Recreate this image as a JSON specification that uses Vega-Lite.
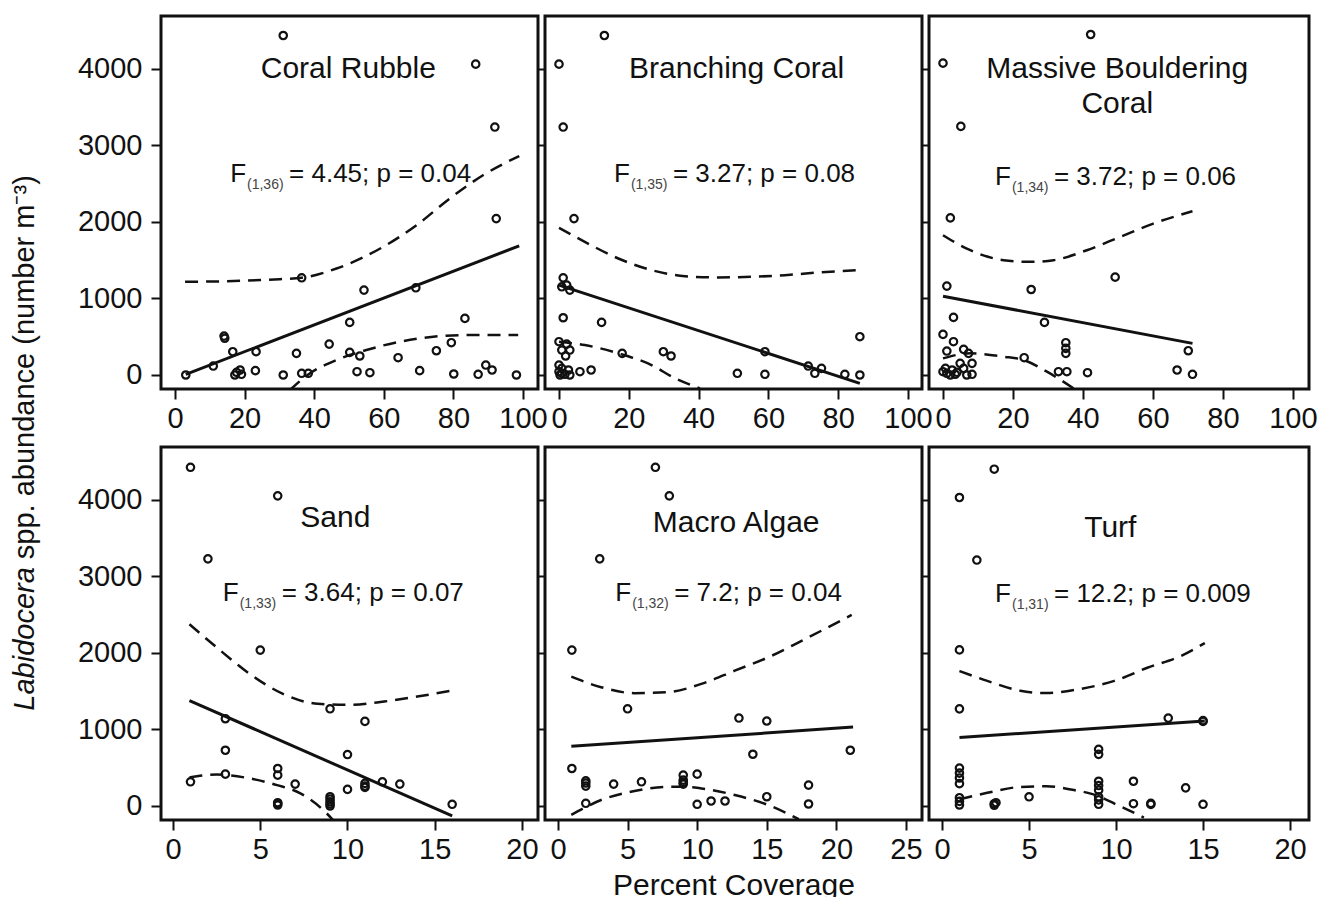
{
  "$schema": "https://vega.github.io/schema/vega-lite/v6.json",
  "background": "white",
  "padding": {"left": 9, "top": 14, "right": 5, "bottom": 0},
  "config": {
    "view": {"stroke": "#111", "strokeWidth": 3},
    "axis": {"grid": false, "domain": false, "tickColor": "#111", "tickWidth": 2, "labelFont": "Liberation Sans", "labelFontSize": 29, "labelColor": "#111", "titleFont": "Liberation Sans", "titleFontSize": 30, "titleFontWeight": "normal", "titleColor": "#111"},
    "axisX": {"tickSize": 10, "labelPadding": 5, "labelFlush": false, "labelOverlap": false, "titlePadding": 6},
    "axisY": {"tickSize": 10, "labelPadding": 9, "labelOverlap": false, "format": "d"},
    "text": {"font": "Liberation Sans", "color": "#111"}
  },
  "datasets": {
    "ytitle": [{"italic": "Labidocera", "rest": "spp. abundance (number m\u207b\u00b3)"}],
    "ann": [
      {"panel": "CR", "title": "Coral Rubble", "df": "(1,36)", "stat": "= 4.45; p = 0.04"},
      {"panel": "BC", "title": "Branching Coral", "df": "(1,35)", "stat": "= 3.27; p = 0.08"},
      {"panel": "MB", "title": "Massive Bouldering\nCoral", "df": "(1,34)", "stat": "= 3.72; p = 0.06"},
      {"panel": "SA", "title": "Sand", "df": "(1,33)", "stat": "= 3.64; p = 0.07"},
      {"panel": "MA", "title": "Macro Algae", "df": "(1,32)", "stat": "= 7.2; p = 0.04"},
      {"panel": "TU", "title": "Turf", "df": "(1,31)", "stat": "= 12.2; p = 0.009"}
    ],
    "pts": [
      {"panel":"CR","kind":"obs","x":3.1,"y":0},{"panel":"CR","kind":"obs","x":11.0,"y":117},{"panel":"CR","kind":"obs","x":14.1,"y":509},{"panel":"CR","kind":"obs","x":14.3,"y":480},
      {"panel":"CR","kind":"obs","x":16.6,"y":304},{"panel":"CR","kind":"obs","x":17.2,"y":0},{"panel":"CR","kind":"obs","x":17.7,"y":35},{"panel":"CR","kind":"obs","x":18.7,"y":65},
      {"panel":"CR","kind":"obs","x":19.1,"y":9},{"panel":"CR","kind":"obs","x":23.1,"y":57},{"panel":"CR","kind":"obs","x":23.3,"y":304},{"panel":"CR","kind":"obs","x":31.1,"y":0},
      {"panel":"CR","kind":"obs","x":31.1,"y":4435},{"panel":"CR","kind":"obs","x":34.9,"y":283},{"panel":"CR","kind":"obs","x":36.4,"y":1270},{"panel":"CR","kind":"obs","x":36.4,"y":22},
      {"panel":"CR","kind":"obs","x":38.3,"y":22},{"panel":"CR","kind":"obs","x":44.3,"y":404},{"panel":"CR","kind":"obs","x":50.2,"y":687},{"panel":"CR","kind":"obs","x":50.2,"y":296},
      {"panel":"CR","kind":"obs","x":52.3,"y":43},{"panel":"CR","kind":"obs","x":53.1,"y":248},{"panel":"CR","kind":"obs","x":54.3,"y":1109},{"panel":"CR","kind":"obs","x":56.0,"y":30},
      {"panel":"CR","kind":"obs","x":64.1,"y":226},{"panel":"CR","kind":"obs","x":69.2,"y":1139},{"panel":"CR","kind":"obs","x":70.3,"y":57},{"panel":"CR","kind":"obs","x":75.1,"y":317},
      {"panel":"CR","kind":"obs","x":79.4,"y":422},{"panel":"CR","kind":"obs","x":80.1,"y":13},{"panel":"CR","kind":"obs","x":83.3,"y":739},{"panel":"CR","kind":"obs","x":86.4,"y":4061},
      {"panel":"CR","kind":"obs","x":87.1,"y":9},{"panel":"CR","kind":"obs","x":89.3,"y":130},{"panel":"CR","kind":"obs","x":91.1,"y":65},{"panel":"CR","kind":"obs","x":91.9,"y":3239},
      {"panel":"CR","kind":"obs","x":92.3,"y":2043},{"panel":"CR","kind":"obs","x":98.1,"y":0},
      {"panel":"CR","kind":"fit","x":3.1,"y":9},{"panel":"CR","kind":"fit","x":98.9,"y":1687},
      {"panel":"CR","kind":"upper","x":2.9,"y":1217},{"panel":"CR","kind":"upper","x":15,"y":1225},{"panel":"CR","kind":"upper","x":30.1,"y":1252},{"panel":"CR","kind":"upper","x":36.4,"y":1270},
      {"panel":"CR","kind":"upper","x":46.4,"y":1391},{"panel":"CR","kind":"upper","x":59.8,"y":1674},{"panel":"CR","kind":"upper","x":69.4,"y":1957},{"panel":"CR","kind":"upper","x":78.9,"y":2304},
      {"panel":"CR","kind":"upper","x":88.5,"y":2609},{"panel":"CR","kind":"upper","x":98.9,"y":2861},
      {"panel":"CR","kind":"lower","x":33.0,"y":-196},{"panel":"CR","kind":"lower","x":38.8,"y":22},{"panel":"CR","kind":"lower","x":46.4,"y":196},{"panel":"CR","kind":"lower","x":55.0,"y":326},
      {"panel":"CR","kind":"lower","x":64.6,"y":435},{"panel":"CR","kind":"lower","x":74.2,"y":500},{"panel":"CR","kind":"lower","x":83.7,"y":522},{"panel":"CR","kind":"lower","x":98.6,"y":522},

      {"panel":"BC","kind":"obs","x":13.0,"y":4435},{"panel":"BC","kind":"obs","x":0,"y":4061},{"panel":"BC","kind":"obs","x":1.2,"y":3239},{"panel":"BC","kind":"obs","x":4.3,"y":2043},
      {"panel":"BC","kind":"obs","x":1.2,"y":1270},{"panel":"BC","kind":"obs","x":0.8,"y":1152},{"panel":"BC","kind":"obs","x":3.1,"y":1109},{"panel":"BC","kind":"obs","x":2.2,"y":1174},
      {"panel":"BC","kind":"obs","x":1.2,"y":748},{"panel":"BC","kind":"obs","x":12.2,"y":687},{"panel":"BC","kind":"obs","x":0,"y":435},{"panel":"BC","kind":"obs","x":2.2,"y":404},
      {"panel":"BC","kind":"obs","x":0.8,"y":326},{"panel":"BC","kind":"obs","x":3.1,"y":326},{"panel":"BC","kind":"obs","x":1.9,"y":248},{"panel":"BC","kind":"obs","x":18.1,"y":283},
      {"panel":"BC","kind":"obs","x":29.9,"y":304},{"panel":"BC","kind":"obs","x":32.1,"y":248},{"panel":"BC","kind":"obs","x":59.0,"y":304},{"panel":"BC","kind":"obs","x":86.2,"y":500},
      {"panel":"BC","kind":"obs","x":71.4,"y":117},{"panel":"BC","kind":"obs","x":75.2,"y":87},{"panel":"BC","kind":"obs","x":73.3,"y":22},{"panel":"BC","kind":"obs","x":0,"y":130},
      {"panel":"BC","kind":"obs","x":0,"y":43},{"panel":"BC","kind":"obs","x":0.8,"y":22},{"panel":"BC","kind":"obs","x":1.7,"y":9},{"panel":"BC","kind":"obs","x":2.7,"y":65},
      {"panel":"BC","kind":"obs","x":3.1,"y":0},{"panel":"BC","kind":"obs","x":6.0,"y":43},{"panel":"BC","kind":"obs","x":9.2,"y":65},{"panel":"BC","kind":"obs","x":51.1,"y":22},
      {"panel":"BC","kind":"obs","x":59.0,"y":9},{"panel":"BC","kind":"obs","x":81.9,"y":9},{"panel":"BC","kind":"obs","x":86.2,"y":0},{"panel":"BC","kind":"obs","x":0.8,"y":87},
      {"panel":"BC","kind":"obs","x":0.3,"y":0},
      {"panel":"BC","kind":"fit","x":0,"y":1174},{"panel":"BC","kind":"fit","x":86.2,"y":-109},
      {"panel":"BC","kind":"upper","x":0,"y":1922},{"panel":"BC","kind":"upper","x":7.4,"y":1739},{"panel":"BC","kind":"upper","x":17.0,"y":1522},{"panel":"BC","kind":"upper","x":26.5,"y":1370},
      {"panel":"BC","kind":"upper","x":36.1,"y":1291},{"panel":"BC","kind":"upper","x":45.6,"y":1274},{"panel":"BC","kind":"upper","x":55.2,"y":1283},{"panel":"BC","kind":"upper","x":64.7,"y":1304},
      {"panel":"BC","kind":"upper","x":74.2,"y":1339},{"panel":"BC","kind":"upper","x":85.2,"y":1370},
      {"panel":"BC","kind":"lower","x":0,"y":435},{"panel":"BC","kind":"lower","x":7.4,"y":391},{"panel":"BC","kind":"lower","x":17.0,"y":283},{"panel":"BC","kind":"lower","x":26.5,"y":130},
      {"panel":"BC","kind":"lower","x":33.2,"y":-43},{"panel":"BC","kind":"lower","x":40.4,"y":-174},

      {"panel":"MB","kind":"obs","x":42.2,"y":4448},{"panel":"MB","kind":"obs","x":0,"y":4074},{"panel":"MB","kind":"obs","x":5.1,"y":3248},{"panel":"MB","kind":"obs","x":2.1,"y":2052},
      {"panel":"MB","kind":"obs","x":49.2,"y":1278},{"panel":"MB","kind":"obs","x":1.1,"y":1161},{"panel":"MB","kind":"obs","x":25.2,"y":1117},{"panel":"MB","kind":"obs","x":3.0,"y":752},
      {"panel":"MB","kind":"obs","x":29.0,"y":687},{"panel":"MB","kind":"obs","x":0,"y":530},{"panel":"MB","kind":"obs","x":3.0,"y":435},{"panel":"MB","kind":"obs","x":35.1,"y":422},
      {"panel":"MB","kind":"obs","x":35.1,"y":348},{"panel":"MB","kind":"obs","x":35.1,"y":283},{"panel":"MB","kind":"obs","x":5.9,"y":335},{"panel":"MB","kind":"obs","x":1.1,"y":313},
      {"panel":"MB","kind":"obs","x":7.3,"y":283},{"panel":"MB","kind":"obs","x":70.1,"y":317},{"panel":"MB","kind":"obs","x":23.2,"y":226},{"panel":"MB","kind":"obs","x":4.9,"y":152},
      {"panel":"MB","kind":"obs","x":8.3,"y":152},{"panel":"MB","kind":"obs","x":0,"y":43},{"panel":"MB","kind":"obs","x":1.1,"y":22},{"panel":"MB","kind":"obs","x":2.6,"y":65},
      {"panel":"MB","kind":"obs","x":4.0,"y":35},{"panel":"MB","kind":"obs","x":5.9,"y":87},{"panel":"MB","kind":"obs","x":8.3,"y":9},{"panel":"MB","kind":"obs","x":33.0,"y":43},
      {"panel":"MB","kind":"obs","x":35.4,"y":43},{"panel":"MB","kind":"obs","x":41.3,"y":30},{"panel":"MB","kind":"obs","x":66.9,"y":65},{"panel":"MB","kind":"obs","x":71.3,"y":9},
      {"panel":"MB","kind":"obs","x":2.1,"y":0},{"panel":"MB","kind":"obs","x":6.8,"y":0},{"panel":"MB","kind":"obs","x":0.7,"y":87},{"panel":"MB","kind":"obs","x":3.5,"y":9},
      {"panel":"MB","kind":"fit","x":0,"y":1030},{"panel":"MB","kind":"fit","x":71.3,"y":413},
      {"panel":"MB","kind":"upper","x":0,"y":1826},{"panel":"MB","kind":"upper","x":7.8,"y":1630},{"panel":"MB","kind":"upper","x":17.3,"y":1500},{"panel":"MB","kind":"upper","x":24.9,"y":1478},
      {"panel":"MB","kind":"upper","x":31.6,"y":1500},{"panel":"MB","kind":"upper","x":41.1,"y":1630},{"panel":"MB","kind":"upper","x":50.6,"y":1804},{"panel":"MB","kind":"upper","x":60.1,"y":1978},
      {"panel":"MB","kind":"upper","x":71.3,"y":2139},
      {"panel":"MB","kind":"lower","x":0,"y":217},{"panel":"MB","kind":"lower","x":7.8,"y":283},{"panel":"MB","kind":"lower","x":17.3,"y":239},{"panel":"MB","kind":"lower","x":23.0,"y":196},
      {"panel":"MB","kind":"lower","x":29.7,"y":43},{"panel":"MB","kind":"lower","x":37.3,"y":-174},

      {"panel":"SA","kind":"obs","x":1,"y":4425},{"panel":"SA","kind":"obs","x":6,"y":4052},{"panel":"SA","kind":"obs","x":2,"y":3229},{"panel":"SA","kind":"obs","x":5,"y":2037},
      {"panel":"SA","kind":"obs","x":9,"y":1270},{"panel":"SA","kind":"obs","x":11,"y":1105},{"panel":"SA","kind":"obs","x":3,"y":1140},{"panel":"SA","kind":"obs","x":3,"y":728},
      {"panel":"SA","kind":"obs","x":10,"y":672},{"panel":"SA","kind":"obs","x":3,"y":416},{"panel":"SA","kind":"obs","x":1,"y":316},{"panel":"SA","kind":"obs","x":6,"y":490},
      {"panel":"SA","kind":"obs","x":6,"y":403},{"panel":"SA","kind":"obs","x":7,"y":286},{"panel":"SA","kind":"obs","x":11,"y":295},{"panel":"SA","kind":"obs","x":11,"y":243},
      {"panel":"SA","kind":"obs","x":12,"y":316},{"panel":"SA","kind":"obs","x":13,"y":286},{"panel":"SA","kind":"obs","x":10,"y":217},{"panel":"SA","kind":"obs","x":9,"y":121},
      {"panel":"SA","kind":"obs","x":9,"y":56},{"panel":"SA","kind":"obs","x":9,"y":0},{"panel":"SA","kind":"obs","x":6,"y":43},{"panel":"SA","kind":"obs","x":6,"y":13},
      {"panel":"SA","kind":"obs","x":16,"y":22},{"panel":"SA","kind":"obs","x":9,"y":26},{"panel":"SA","kind":"obs","x":6,"y":30},{"panel":"SA","kind":"obs","x":11,"y":260},
      {"panel":"SA","kind":"obs","x":9,"y":90},
      {"panel":"SA","kind":"fit","x":0.94,"y":1378},{"panel":"SA","kind":"fit","x":16.0,"y":-130},
      {"panel":"SA","kind":"upper","x":0.94,"y":2375},{"panel":"SA","kind":"upper","x":2.5,"y":2072},{"panel":"SA","kind":"upper","x":4.4,"y":1725},{"panel":"SA","kind":"upper","x":6.3,"y":1465},
      {"panel":"SA","kind":"upper","x":8.3,"y":1335},{"panel":"SA","kind":"upper","x":10.2,"y":1322},{"panel":"SA","kind":"upper","x":12.1,"y":1365},{"panel":"SA","kind":"upper","x":14.0,"y":1430},
      {"panel":"SA","kind":"upper","x":16.0,"y":1508},
      {"panel":"SA","kind":"lower","x":0.94,"y":373},{"panel":"SA","kind":"lower","x":2.5,"y":412},{"panel":"SA","kind":"lower","x":4.4,"y":360},{"panel":"SA","kind":"lower","x":5.96,"y":273},
      {"panel":"SA","kind":"lower","x":7.3,"y":165},{"panel":"SA","kind":"lower","x":8.8,"y":-95},{"panel":"SA","kind":"lower","x":9.2,"y":-190},

      {"panel":"MA","kind":"obs","x":7,"y":4425},{"panel":"MA","kind":"obs","x":8,"y":4052},{"panel":"MA","kind":"obs","x":3,"y":3229},{"panel":"MA","kind":"obs","x":1,"y":2037},
      {"panel":"MA","kind":"obs","x":5,"y":1270},{"panel":"MA","kind":"obs","x":13,"y":1149},{"panel":"MA","kind":"obs","x":15,"y":1110},{"panel":"MA","kind":"obs","x":14,"y":676},
      {"panel":"MA","kind":"obs","x":21,"y":728},{"panel":"MA","kind":"obs","x":1,"y":490},{"panel":"MA","kind":"obs","x":10,"y":416},{"panel":"MA","kind":"obs","x":9,"y":403},
      {"panel":"MA","kind":"obs","x":9,"y":338},{"panel":"MA","kind":"obs","x":9,"y":286},{"panel":"MA","kind":"obs","x":2,"y":329},{"panel":"MA","kind":"obs","x":2,"y":260},
      {"panel":"MA","kind":"obs","x":4,"y":286},{"panel":"MA","kind":"obs","x":6,"y":316},{"panel":"MA","kind":"obs","x":18,"y":273},{"panel":"MA","kind":"obs","x":18,"y":26},
      {"panel":"MA","kind":"obs","x":15,"y":121},{"panel":"MA","kind":"obs","x":10,"y":22},{"panel":"MA","kind":"obs","x":11,"y":65},{"panel":"MA","kind":"obs","x":12,"y":65},
      {"panel":"MA","kind":"obs","x":2,"y":35},{"panel":"MA","kind":"obs","x":2,"y":300},{"panel":"MA","kind":"obs","x":9,"y":310},
      {"panel":"MA","kind":"fit","x":0.96,"y":780},{"panel":"MA","kind":"fit","x":21.2,"y":1031},
      {"panel":"MA","kind":"upper","x":0.96,"y":1690},{"panel":"MA","kind":"upper","x":3.1,"y":1552},{"panel":"MA","kind":"upper","x":5.5,"y":1474},{"panel":"MA","kind":"upper","x":7.9,"y":1487},
      {"panel":"MA","kind":"upper","x":10.3,"y":1595},{"panel":"MA","kind":"upper","x":12.7,"y":1768},{"panel":"MA","kind":"upper","x":15.1,"y":1942},{"panel":"MA","kind":"upper","x":17.5,"y":2158},
      {"panel":"MA","kind":"upper","x":21.1,"y":2496},
      {"panel":"MA","kind":"lower","x":0.96,"y":-117},{"panel":"MA","kind":"lower","x":3.1,"y":78},{"panel":"MA","kind":"lower","x":5.5,"y":195},{"panel":"MA","kind":"lower","x":7.9,"y":251},
      {"panel":"MA","kind":"lower","x":9.1,"y":251},{"panel":"MA","kind":"lower","x":10.3,"y":230},{"panel":"MA","kind":"lower","x":12.7,"y":143},{"panel":"MA","kind":"lower","x":15.1,"y":13},
      {"panel":"MA","kind":"lower","x":17.3,"y":-173},

      {"panel":"TU","kind":"obs","x":3,"y":4400},{"panel":"TU","kind":"obs","x":1,"y":4030},{"panel":"TU","kind":"obs","x":2,"y":3213},{"panel":"TU","kind":"obs","x":1,"y":2039},
      {"panel":"TU","kind":"obs","x":1,"y":1269},{"panel":"TU","kind":"obs","x":13,"y":1148},{"panel":"TU","kind":"obs","x":15,"y":1105},{"panel":"TU","kind":"obs","x":9,"y":740},
      {"panel":"TU","kind":"obs","x":9,"y":675},{"panel":"TU","kind":"obs","x":1,"y":495},{"panel":"TU","kind":"obs","x":1,"y":430},{"panel":"TU","kind":"obs","x":1,"y":366},
      {"panel":"TU","kind":"obs","x":1,"y":292},{"panel":"TU","kind":"obs","x":9,"y":323},{"panel":"TU","kind":"obs","x":9,"y":267},{"panel":"TU","kind":"obs","x":9,"y":206},
      {"panel":"TU","kind":"obs","x":11,"y":323},{"panel":"TU","kind":"obs","x":14,"y":237},{"panel":"TU","kind":"obs","x":5,"y":120},{"panel":"TU","kind":"obs","x":1,"y":108},
      {"panel":"TU","kind":"obs","x":1,"y":13},{"panel":"TU","kind":"obs","x":3,"y":30},{"panel":"TU","kind":"obs","x":3.1,"y":43},{"panel":"TU","kind":"obs","x":9,"y":120},
      {"panel":"TU","kind":"obs","x":9,"y":22},{"panel":"TU","kind":"obs","x":11,"y":30},{"panel":"TU","kind":"obs","x":12,"y":34},{"panel":"TU","kind":"obs","x":15,"y":22},
      {"panel":"TU","kind":"obs","x":9,"y":80},{"panel":"TU","kind":"obs","x":1,"y":60},{"panel":"TU","kind":"obs","x":12,"y":20},{"panel":"TU","kind":"obs","x":3,"y":10},
      {"panel":"TU","kind":"obs","x":15,"y":1115},
      {"panel":"TU","kind":"fit","x":1,"y":895},{"panel":"TU","kind":"fit","x":15.1,"y":1110},
      {"panel":"TU","kind":"upper","x":1,"y":1763},{"panel":"TU","kind":"upper","x":2.6,"y":1634},{"panel":"TU","kind":"upper","x":4.5,"y":1505},{"panel":"TU","kind":"upper","x":6.0,"y":1475},
      {"panel":"TU","kind":"upper","x":7.9,"y":1527},{"panel":"TU","kind":"upper","x":9.9,"y":1634},{"panel":"TU","kind":"upper","x":11.8,"y":1806},{"panel":"TU","kind":"upper","x":13.7,"y":1957},
      {"panel":"TU","kind":"upper","x":15.1,"y":2129},
      {"panel":"TU","kind":"lower","x":1,"y":86},{"panel":"TU","kind":"lower","x":2.6,"y":172},{"panel":"TU","kind":"lower","x":4.5,"y":249},{"panel":"TU","kind":"lower","x":6.0,"y":258},
      {"panel":"TU","kind":"lower","x":7.4,"y":215},{"panel":"TU","kind":"lower","x":8.7,"y":151},{"panel":"TU","kind":"lower","x":10.2,"y":0},{"panel":"TU","kind":"lower","x":11.6,"y":-151}
    ]
  },
  "bounds": "flush",
  "columns": 3,
  "spacing": {"row": 58, "column": 7},
  "concat": [
    {
      "width": 377, "height": 373,
      "layer": [
        {"data": {"name": "pts"}, "transform": [{"filter": "datum.panel === 'CR' && datum.kind === 'obs'"}],
         "mark": {"type": "point", "shape": "circle", "filled": false, "size": 55, "strokeWidth": 2.2, "color": "#111", "opacity": 1, "clip": true},
         "encoding": {
           "x": {"field": "x", "type": "quantitative", "scale": {"domain": [-4.02, 104.3], "nice": false, "zero": false}, "axis": {"values": [0, 20, 40, 60, 80, 100], "title": null}},
           "y": {"field": "y", "type": "quantitative", "scale": {"domain": [-183, 4690], "nice": false, "zero": false}, "axis": {"values": [0, 1000, 2000, 3000, 4000], "title": null}}}},
        {"data": {"name": "pts"}, "transform": [{"filter": "datum.panel === 'CR' && datum.kind === 'fit'"}],
         "mark": {"type": "line", "color": "#111", "strokeWidth": 3, "clip": true},
         "encoding": {"x": {"field": "x", "type": "quantitative", "title": null}, "y": {"field": "y", "type": "quantitative", "title": null}}},
        {"data": {"name": "pts"}, "transform": [{"filter": "datum.panel === 'CR' && (datum.kind === 'upper' || datum.kind === 'lower')"}],
         "mark": {"type": "line", "color": "#111", "strokeWidth": 2.5, "strokeDash": [13, 8], "interpolate": "monotone", "clip": true},
         "encoding": {"x": {"field": "x", "type": "quantitative", "title": null}, "y": {"field": "y", "type": "quantitative", "title": null}, "detail": {"field": "kind", "type": "nominal"}}},
        {"data": {"name": "ann"}, "transform": [{"filter": "datum.panel === 'CR'"}],
         "mark": {"type": "text", "fontSize": 30, "align": "center", "baseline": "middle", "lineBreak": "\n", "lineHeight": 35},
         "encoding": {"x": {"datum": 49.8, "type": "quantitative", "title": null}, "y": {"datum": 4000, "type": "quantitative", "title": null}, "text": {"field": "title"}}},
        {"data": {"name": "ann"}, "transform": [{"filter": "datum.panel === 'CR'"}],
         "mark": {"type": "text", "fontSize": 26, "align": "right", "baseline": "alphabetic", "dx": -1, "text": "F"},
         "encoding": {"x": {"datum": 20.7, "type": "quantitative", "title": null}, "y": {"datum": 2522, "type": "quantitative", "title": null}}},
        {"data": {"name": "ann"}, "transform": [{"filter": "datum.panel === 'CR'"}],
         "mark": {"type": "text", "fontSize": 14, "align": "left", "baseline": "alphabetic", "dy": 7, "color": "#444"},
         "encoding": {"x": {"datum": 20.7, "type": "quantitative", "title": null}, "y": {"datum": 2522, "type": "quantitative", "title": null}, "text": {"field": "df"}}},
        {"data": {"name": "ann"}, "transform": [{"filter": "datum.panel === 'CR'"}],
         "mark": {"type": "text", "fontSize": 26, "align": "left", "baseline": "alphabetic", "dx": 42},
         "encoding": {"x": {"datum": 20.7, "type": "quantitative", "title": null}, "y": {"datum": 2522, "type": "quantitative", "title": null}, "text": {"field": "stat"}}}
      ]
    },
    {
      "width": 377, "height": 373,
      "layer": [
        {"data": {"name": "pts"}, "transform": [{"filter": "datum.panel === 'BC' && datum.kind === 'obs'"}],
         "mark": {"type": "point", "shape": "circle", "filled": false, "size": 55, "strokeWidth": 2.2, "color": "#111", "opacity": 1, "clip": true},
         "encoding": {
           "x": {"field": "x", "type": "quantitative", "scale": {"domain": [-4.01, 104.0], "nice": false, "zero": false}, "axis": {"values": [0, 20, 40, 60, 80, 100], "title": null}},
           "y": {"field": "y", "type": "quantitative", "scale": {"domain": [-183, 4690], "nice": false, "zero": false}, "axis": {"values": [0, 1000, 2000, 3000, 4000], "title": null, "labels": false, "tickSize": 7}}}},
        {"data": {"name": "pts"}, "transform": [{"filter": "datum.panel === 'BC' && datum.kind === 'fit'"}],
         "mark": {"type": "line", "color": "#111", "strokeWidth": 3, "clip": true},
         "encoding": {"x": {"field": "x", "type": "quantitative", "title": null}, "y": {"field": "y", "type": "quantitative", "title": null}}},
        {"data": {"name": "pts"}, "transform": [{"filter": "datum.panel === 'BC' && (datum.kind === 'upper' || datum.kind === 'lower')"}],
         "mark": {"type": "line", "color": "#111", "strokeWidth": 2.5, "strokeDash": [13, 8], "interpolate": "monotone", "clip": true},
         "encoding": {"x": {"field": "x", "type": "quantitative", "title": null}, "y": {"field": "y", "type": "quantitative", "title": null}, "detail": {"field": "kind", "type": "nominal"}}},
        {"data": {"name": "ann"}, "transform": [{"filter": "datum.panel === 'BC'"}],
         "mark": {"type": "text", "fontSize": 30, "align": "center", "baseline": "middle", "lineBreak": "\n", "lineHeight": 35},
         "encoding": {"x": {"datum": 50.9, "type": "quantitative", "title": null}, "y": {"datum": 4000, "type": "quantitative", "title": null}, "text": {"field": "title"}}},
        {"data": {"name": "ann"}, "transform": [{"filter": "datum.panel === 'BC'"}],
         "mark": {"type": "text", "fontSize": 26, "align": "right", "baseline": "alphabetic", "dx": -1, "text": "F"},
         "encoding": {"x": {"datum": 20.6, "type": "quantitative", "title": null}, "y": {"datum": 2522, "type": "quantitative", "title": null}}},
        {"data": {"name": "ann"}, "transform": [{"filter": "datum.panel === 'BC'"}],
         "mark": {"type": "text", "fontSize": 14, "align": "left", "baseline": "alphabetic", "dy": 7, "color": "#444"},
         "encoding": {"x": {"datum": 20.6, "type": "quantitative", "title": null}, "y": {"datum": 2522, "type": "quantitative", "title": null}, "text": {"field": "df"}}},
        {"data": {"name": "ann"}, "transform": [{"filter": "datum.panel === 'BC'"}],
         "mark": {"type": "text", "fontSize": 26, "align": "left", "baseline": "alphabetic", "dx": 42},
         "encoding": {"x": {"datum": 20.6, "type": "quantitative", "title": null}, "y": {"datum": 2522, "type": "quantitative", "title": null}, "text": {"field": "stat"}}}
      ]
    },
    {
      "width": 380, "height": 373,
      "layer": [
        {"data": {"name": "pts"}, "transform": [{"filter": "datum.panel === 'MB' && datum.kind === 'obs'"}],
         "mark": {"type": "point", "shape": "circle", "filled": false, "size": 55, "strokeWidth": 2.2, "color": "#111", "opacity": 1, "clip": true},
         "encoding": {
           "x": {"field": "x", "type": "quantitative", "scale": {"domain": [-4.0, 104.6], "nice": false, "zero": false}, "axis": {"values": [0, 20, 40, 60, 80, 100], "title": null}},
           "y": {"field": "y", "type": "quantitative", "scale": {"domain": [-183, 4690], "nice": false, "zero": false}, "axis": {"values": [0, 1000, 2000, 3000, 4000], "title": null, "labels": false, "tickSize": 7}}}},
        {"data": {"name": "pts"}, "transform": [{"filter": "datum.panel === 'MB' && datum.kind === 'fit'"}],
         "mark": {"type": "line", "color": "#111", "strokeWidth": 3, "clip": true},
         "encoding": {"x": {"field": "x", "type": "quantitative", "title": null}, "y": {"field": "y", "type": "quantitative", "title": null}}},
        {"data": {"name": "pts"}, "transform": [{"filter": "datum.panel === 'MB' && (datum.kind === 'upper' || datum.kind === 'lower')"}],
         "mark": {"type": "line", "color": "#111", "strokeWidth": 2.5, "strokeDash": [13, 8], "interpolate": "monotone", "clip": true},
         "encoding": {"x": {"field": "x", "type": "quantitative", "title": null}, "y": {"field": "y", "type": "quantitative", "title": null}, "detail": {"field": "kind", "type": "nominal"}}},
        {"data": {"name": "ann"}, "transform": [{"filter": "datum.panel === 'MB'"}],
         "mark": {"type": "text", "fontSize": 30, "align": "center", "baseline": "middle", "lineBreak": "\n", "lineHeight": 35},
         "encoding": {"x": {"datum": 49.8, "type": "quantitative", "title": null}, "y": {"datum": 4000, "type": "quantitative", "title": null}, "text": {"field": "title"}}},
        {"data": {"name": "ann"}, "transform": [{"filter": "datum.panel === 'MB'"}],
         "mark": {"type": "text", "fontSize": 26, "align": "right", "baseline": "alphabetic", "dx": -1, "text": "F"},
         "encoding": {"x": {"datum": 19.7, "type": "quantitative", "title": null}, "y": {"datum": 2487, "type": "quantitative", "title": null}}},
        {"data": {"name": "ann"}, "transform": [{"filter": "datum.panel === 'MB'"}],
         "mark": {"type": "text", "fontSize": 14, "align": "left", "baseline": "alphabetic", "dy": 7, "color": "#444"},
         "encoding": {"x": {"datum": 19.7, "type": "quantitative", "title": null}, "y": {"datum": 2487, "type": "quantitative", "title": null}, "text": {"field": "df"}}},
        {"data": {"name": "ann"}, "transform": [{"filter": "datum.panel === 'MB'"}],
         "mark": {"type": "text", "fontSize": 26, "align": "left", "baseline": "alphabetic", "dx": 42},
         "encoding": {"x": {"datum": 19.7, "type": "quantitative", "title": null}, "y": {"datum": 2487, "type": "quantitative", "title": null}, "text": {"field": "stat"}}}
      ]
    },
    {
      "width": 377, "height": 373,
      "layer": [
        {"data": {"name": "pts"}, "transform": [{"filter": "datum.panel === 'SA' && datum.kind === 'obs'"}],
         "mark": {"type": "point", "shape": "circle", "filled": false, "size": 55, "strokeWidth": 2.2, "color": "#111", "opacity": 1, "clip": true},
         "encoding": {
           "x": {"field": "x", "type": "quantitative", "scale": {"domain": [-0.69, 20.92], "nice": false, "zero": false}, "axis": {"values": [0, 5, 10, 15, 20], "title": null}},
           "y": {"field": "y", "type": "quantitative", "scale": {"domain": [-183, 4690], "nice": false, "zero": false}, "axis": {"values": [0, 1000, 2000, 3000, 4000], "title": null}}}},
        {"data": {"name": "pts"}, "transform": [{"filter": "datum.panel === 'SA' && datum.kind === 'fit'"}],
         "mark": {"type": "line", "color": "#111", "strokeWidth": 3, "clip": true},
         "encoding": {"x": {"field": "x", "type": "quantitative", "title": null}, "y": {"field": "y", "type": "quantitative", "title": null}}},
        {"data": {"name": "pts"}, "transform": [{"filter": "datum.panel === 'SA' && (datum.kind === 'upper' || datum.kind === 'lower')"}],
         "mark": {"type": "line", "color": "#111", "strokeWidth": 2.5, "strokeDash": [13, 8], "interpolate": "monotone", "clip": true},
         "encoding": {"x": {"field": "x", "type": "quantitative", "title": null}, "y": {"field": "y", "type": "quantitative", "title": null}, "detail": {"field": "kind", "type": "nominal"}}},
        {"data": {"name": "ann"}, "transform": [{"filter": "datum.panel === 'SA'"}],
         "mark": {"type": "text", "fontSize": 30, "align": "center", "baseline": "middle", "lineBreak": "\n", "lineHeight": 35},
         "encoding": {"x": {"datum": 9.3, "type": "quantitative", "title": null}, "y": {"datum": 3762, "type": "quantitative", "title": null}, "text": {"field": "title"}}},
        {"data": {"name": "ann"}, "transform": [{"filter": "datum.panel === 'SA'"}],
         "mark": {"type": "text", "fontSize": 26, "align": "right", "baseline": "alphabetic", "dx": -1, "text": "F"},
         "encoding": {"x": {"datum": 3.82, "type": "quantitative", "title": null}, "y": {"datum": 2678, "type": "quantitative", "title": null}}},
        {"data": {"name": "ann"}, "transform": [{"filter": "datum.panel === 'SA'"}],
         "mark": {"type": "text", "fontSize": 14, "align": "left", "baseline": "alphabetic", "dy": 7, "color": "#444"},
         "encoding": {"x": {"datum": 3.82, "type": "quantitative", "title": null}, "y": {"datum": 2678, "type": "quantitative", "title": null}, "text": {"field": "df"}}},
        {"data": {"name": "ann"}, "transform": [{"filter": "datum.panel === 'SA'"}],
         "mark": {"type": "text", "fontSize": 26, "align": "left", "baseline": "alphabetic", "dx": 42},
         "encoding": {"x": {"datum": 3.82, "type": "quantitative", "title": null}, "y": {"datum": 2678, "type": "quantitative", "title": null}, "text": {"field": "stat"}}},
        {"data": {"name": "ytitle"},
         "mark": {"type": "text", "angle": 270, "align": "right", "baseline": "middle", "fontStyle": "italic", "fontSize": 29, "clip": false},
         "encoding": {"x": {"datum": -8.48, "type": "quantitative", "title": null}, "y": {"datum": 3120, "type": "quantitative", "title": null}, "text": {"field": "italic"}}},
        {"data": {"name": "ytitle"},
         "mark": {"type": "text", "angle": 270, "align": "left", "baseline": "middle", "fontSize": 29, "dx": 8, "clip": false},
         "encoding": {"x": {"datum": -8.48, "type": "quantitative", "title": null}, "y": {"datum": 3120, "type": "quantitative", "title": null}, "text": {"field": "rest"}}}
      ]
    },
    {
      "width": 377, "height": 373,
      "layer": [
        {"data": {"name": "pts"}, "transform": [{"filter": "datum.panel === 'MA' && datum.kind === 'obs'"}],
         "mark": {"type": "point", "shape": "circle", "filled": false, "size": 55, "strokeWidth": 2.2, "color": "#111", "opacity": 1, "clip": true},
         "encoding": {
           "x": {"field": "x", "type": "quantitative", "scale": {"domain": [-0.93, 26.15], "nice": false, "zero": false}, "axis": {"values": [0, 5, 10, 15, 20, 25], "title": "Percent Coverage"}},
           "y": {"field": "y", "type": "quantitative", "scale": {"domain": [-183, 4690], "nice": false, "zero": false}, "axis": {"values": [0, 1000, 2000, 3000, 4000], "title": null, "labels": false, "tickSize": 7}}}},
        {"data": {"name": "pts"}, "transform": [{"filter": "datum.panel === 'MA' && datum.kind === 'fit'"}],
         "mark": {"type": "line", "color": "#111", "strokeWidth": 3, "clip": true},
         "encoding": {"x": {"field": "x", "type": "quantitative", "title": "Percent Coverage"}, "y": {"field": "y", "type": "quantitative", "title": null}}},
        {"data": {"name": "pts"}, "transform": [{"filter": "datum.panel === 'MA' && (datum.kind === 'upper' || datum.kind === 'lower')"}],
         "mark": {"type": "line", "color": "#111", "strokeWidth": 2.5, "strokeDash": [13, 8], "interpolate": "monotone", "clip": true},
         "encoding": {"x": {"field": "x", "type": "quantitative", "title": "Percent Coverage"}, "y": {"field": "y", "type": "quantitative", "title": null}, "detail": {"field": "kind", "type": "nominal"}}},
        {"data": {"name": "ann"}, "transform": [{"filter": "datum.panel === 'MA'"}],
         "mark": {"type": "text", "fontSize": 30, "align": "center", "baseline": "middle", "lineBreak": "\n", "lineHeight": 35},
         "encoding": {"x": {"datum": 12.8, "type": "quantitative", "title": "Percent Coverage"}, "y": {"datum": 3697, "type": "quantitative", "title": null}, "text": {"field": "title"}}},
        {"data": {"name": "ann"}, "transform": [{"filter": "datum.panel === 'MA'"}],
         "mark": {"type": "text", "fontSize": 26, "align": "right", "baseline": "alphabetic", "dx": -1, "text": "F"},
         "encoding": {"x": {"datum": 5.33, "type": "quantitative", "title": "Percent Coverage"}, "y": {"datum": 2678, "type": "quantitative", "title": null}}},
        {"data": {"name": "ann"}, "transform": [{"filter": "datum.panel === 'MA'"}],
         "mark": {"type": "text", "fontSize": 14, "align": "left", "baseline": "alphabetic", "dy": 7, "color": "#444"},
         "encoding": {"x": {"datum": 5.33, "type": "quantitative", "title": "Percent Coverage"}, "y": {"datum": 2678, "type": "quantitative", "title": null}, "text": {"field": "df"}}},
        {"data": {"name": "ann"}, "transform": [{"filter": "datum.panel === 'MA'"}],
         "mark": {"type": "text", "fontSize": 26, "align": "left", "baseline": "alphabetic", "dx": 42},
         "encoding": {"x": {"datum": 5.33, "type": "quantitative", "title": "Percent Coverage"}, "y": {"datum": 2678, "type": "quantitative", "title": null}, "text": {"field": "stat"}}}
      ]
    },
    {
      "width": 380, "height": 373,
      "layer": [
        {"data": {"name": "pts"}, "transform": [{"filter": "datum.panel === 'TU' && datum.kind === 'obs'"}],
         "mark": {"type": "point", "shape": "circle", "filled": false, "size": 55, "strokeWidth": 2.2, "color": "#111", "opacity": 1, "clip": true},
         "encoding": {
           "x": {"field": "x", "type": "quantitative", "scale": {"domain": [-0.75, 21.09], "nice": false, "zero": false}, "axis": {"values": [0, 5, 10, 15, 20], "title": null}},
           "y": {"field": "y", "type": "quantitative", "scale": {"domain": [-183, 4690], "nice": false, "zero": false}, "axis": {"values": [0, 1000, 2000, 3000, 4000], "title": null, "labels": false, "tickSize": 7}}}},
        {"data": {"name": "pts"}, "transform": [{"filter": "datum.panel === 'TU' && datum.kind === 'fit'"}],
         "mark": {"type": "line", "color": "#111", "strokeWidth": 3, "clip": true},
         "encoding": {"x": {"field": "x", "type": "quantitative", "title": null}, "y": {"field": "y", "type": "quantitative", "title": null}}},
        {"data": {"name": "pts"}, "transform": [{"filter": "datum.panel === 'TU' && (datum.kind === 'upper' || datum.kind === 'lower')"}],
         "mark": {"type": "line", "color": "#111", "strokeWidth": 2.5, "strokeDash": [13, 8], "interpolate": "monotone", "clip": true},
         "encoding": {"x": {"field": "x", "type": "quantitative", "title": null}, "y": {"field": "y", "type": "quantitative", "title": null}, "detail": {"field": "kind", "type": "nominal"}}},
        {"data": {"name": "ann"}, "transform": [{"filter": "datum.panel === 'TU'"}],
         "mark": {"type": "text", "fontSize": 30, "align": "center", "baseline": "middle", "lineBreak": "\n", "lineHeight": 35},
         "encoding": {"x": {"datum": 9.67, "type": "quantitative", "title": null}, "y": {"datum": 3634, "type": "quantitative", "title": null}, "text": {"field": "title"}}},
        {"data": {"name": "ann"}, "transform": [{"filter": "datum.panel === 'TU'"}],
         "mark": {"type": "text", "fontSize": 26, "align": "right", "baseline": "alphabetic", "dx": -1, "text": "F"},
         "encoding": {"x": {"datum": 4.02, "type": "quantitative", "title": null}, "y": {"datum": 2667, "type": "quantitative", "title": null}}},
        {"data": {"name": "ann"}, "transform": [{"filter": "datum.panel === 'TU'"}],
         "mark": {"type": "text", "fontSize": 14, "align": "left", "baseline": "alphabetic", "dy": 7, "color": "#444"},
         "encoding": {"x": {"datum": 4.02, "type": "quantitative", "title": null}, "y": {"datum": 2667, "type": "quantitative", "title": null}, "text": {"field": "df"}}},
        {"data": {"name": "ann"}, "transform": [{"filter": "datum.panel === 'TU'"}],
         "mark": {"type": "text", "fontSize": 26, "align": "left", "baseline": "alphabetic", "dx": 42},
         "encoding": {"x": {"datum": 4.02, "type": "quantitative", "title": null}, "y": {"datum": 2667, "type": "quantitative", "title": null}, "text": {"field": "stat"}}}
      ]
    }
  ]
}
